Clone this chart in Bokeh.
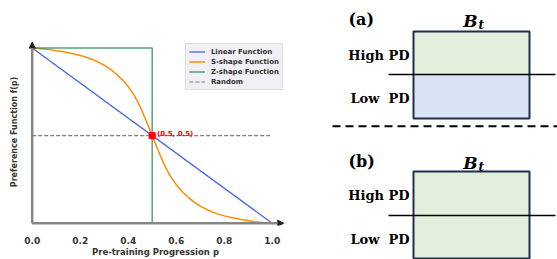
from bokeh.plotting import figure
from bokeh.models import Range1d, Arrow, NormalHead, Label, FixedTicker, PrintfTickFormatter
from bokeh.layouts import row
from bokeh.embed import file_html
from bokeh.resources import INLINE

# ---------------- data ----------------
progress = [0.000, 0.025, 0.050, 0.075, 0.100, 0.125, 0.150, 0.175, 0.200, 0.225,
            0.250, 0.275, 0.300, 0.325, 0.350, 0.375, 0.400, 0.425, 0.450, 0.475,
            0.500, 0.525, 0.550, 0.575, 0.600, 0.625, 0.650, 0.675, 0.700, 0.725,
            0.750, 0.775, 0.800, 0.825, 0.850, 0.875, 0.900, 0.925, 0.950, 0.975, 1.000]
s_shape = [1.000, 0.998, 0.995, 0.991, 0.985, 0.980, 0.973, 0.966, 0.958, 0.948,
           0.935, 0.920, 0.902, 0.880, 0.852, 0.820, 0.780, 0.730, 0.665, 0.585,
           0.500, 0.415, 0.335, 0.270, 0.220, 0.180, 0.148, 0.120, 0.098, 0.080,
           0.065, 0.052, 0.042, 0.034, 0.027, 0.020, 0.015, 0.009, 0.005, 0.002, 0.000]
linear_p = [0.0, 1.0]
linear_f = [1.0, 0.0]
z_p = [0.0, 0.5, 0.5, 1.0]
z_f = [1.0, 1.0, 0.0, 0.0]
random_p = [0.0, 1.0]
random_f = [0.5, 0.5]
cross_p = [0.5]
cross_f = [0.5]
cross_label = "(0.5, 0.5)"
x_ticks = [0.0, 0.2, 0.4, 0.6, 0.8, 1.0]
series_names = ["Linear Function", "S-shape Function", "Z-shape Function", "Random"]

FONT = "DejaVu Sans"
DARK = "#333333"

# ---------------- left chart ----------------
p = figure(width=300, height=259, output_backend="svg", toolbar_location=None,
           x_range=Range1d(-0.0404, 1.068), y_range=Range1d(-0.013, 1.0545),
           min_border_left=22, min_border_right=12, min_border_top=38, min_border_bottom=31)
p.frame_align = False
p.outline_line_color = None
p.xgrid.visible = False
p.ygrid.visible = False
p.background_fill_color = "white"

xa = p.xaxis[0]
xa.ticker = FixedTicker(ticks=x_ticks)
xa.formatter = PrintfTickFormatter(format="%.1f")
xa.axis_line_color = None
xa.major_tick_line_color = None
xa.minor_tick_line_color = None
xa.major_tick_out = 0
xa.major_tick_in = 0
xa.minor_tick_out = 0
xa.minor_tick_in = 0
xa.major_label_standoff = 11
xa.major_label_text_font = FONT
xa.major_label_text_font_style = "bold"
xa.major_label_text_font_size = "9px"
xa.major_label_text_color = DARK
xa.axis_label = "Pre-training Progression p"
xa.axis_label_standoff = 0
xa.axis_label_text_font = FONT
xa.axis_label_text_font_style = "bold"
xa.axis_label_text_font_size = "8.5px"
xa.axis_label_text_color = DARK

ya = p.yaxis[0]
ya.ticker = FixedTicker(ticks=[])
ya.axis_line_color = None
ya.major_tick_line_color = None
ya.minor_tick_line_color = None
ya.major_tick_out = 0
ya.major_tick_in = 0
ya.minor_tick_out = 0
ya.minor_tick_in = 0
ya.axis_label = "Preference Function f(p)"
ya.axis_label_standoff = 4
ya.axis_label_text_font = FONT
ya.axis_label_text_font_style = "bold"
ya.axis_label_text_font_size = "8px"
ya.axis_label_text_color = DARK

# axis arrows
p.add_layout(Arrow(end=NormalHead(size=6, fill_color="#222222", line_color="#222222"),
                   x_start=0, y_start=0, x_end=1.048, y_end=0,
                   line_color="#858585", line_width=2.5))
p.add_layout(Arrow(end=NormalHead(size=6, fill_color="#222222", line_color="#222222"),
                   x_start=0, y_start=0, x_end=0, y_end=1.034,
                   line_color="#858585", line_width=2.5))

p.line(linear_p, linear_f, color="#4169e1", line_width=1.3, legend_label=series_names[0])
p.line(progress, s_shape, color="#ff8c00", line_width=1.5, legend_label=series_names[1])
p.line(z_p, z_f, color="#2e8b57", line_width=1.5, line_alpha=0.8, legend_label=series_names[2])
p.line(random_p, random_f, color="#808080", line_width=1.2, line_dash="4 2", legend_label=series_names[3])
p.scatter(cross_p, cross_f, size=6, marker="square", color="red")
p.add_layout(Label(x=cross_p[0] + 0.02, y=cross_f[0] + 0.012, text=cross_label,
                   text_color="red", text_font=FONT, text_font_style="bold",
                   text_font_size="7px", text_baseline="middle"))

lg = p.legend[0]
lg.location = "top_right"
lg.margin = 5
lg.padding = 3
lg.spacing = 1
lg.glyph_width = 16
lg.glyph_height = 9
lg.label_height = 9
lg.label_standoff = 6
lg.label_text_font = FONT
lg.label_text_font_style = "bold"
lg.label_text_font_size = "7px"
lg.label_text_color = DARK
lg.background_fill_color = "#efeff4"
lg.background_fill_alpha = 1.0
lg.border_line_color = "#cccccc"
lg.border_line_width = 1

# ---------------- right diagram ----------------
q = figure(width=257, height=259, output_backend="svg", toolbar_location=None,
           x_range=Range1d(300, 557), y_range=Range1d(259, 0),
           min_border=0, min_border_left=0, min_border_right=0,
           min_border_top=0, min_border_bottom=0)
q.frame_align = False
q.axis.visible = False
q.xgrid.visible = False
q.ygrid.visible = False
q.outline_line_color = None

panel_tags = ["(a)", "(b)"]
panel_top = [31, 171]
panel_bottom = [118, 258]
panel_split = [74, 215]
tag_y = [19, 161]
upper_fill = ["#e2efda", "#e2efda"]
lower_fill = ["#dae3f3", "#e2efda"]
box_left, box_right = 413, 529
SERIF = "DejaVu Serif"
NAVY = "#1f2f4f"

for i in range(2):
    t, b, s = panel_top[i], panel_bottom[i], panel_split[i]
    q.quad(left=[box_left], right=[box_right], top=[t], bottom=[s],
           fill_color=upper_fill[i], line_color=None)
    q.quad(left=[box_left], right=[box_right], top=[s], bottom=[b],
           fill_color=lower_fill[i], line_color=None)
    q.quad(left=[box_left], right=[box_right], top=[t], bottom=[b],
           fill_color=None, line_color=NAVY, line_width=2)
    q.line([388, 555], [s, s], color="black", line_width=1.6)
    q.add_layout(Label(x=348, y=tag_y[i], text=panel_tags[i], text_font=SERIF,
                       text_font_style="bold", text_font_size="16px",
                       text_baseline="middle", text_color="black"))
    q.add_layout(Label(x=477, y=tag_y[i] + 1, text="B", text_font=SERIF,
                       text_font_style="bold italic", text_font_size="17px",
                       text_baseline="middle", text_align="right", text_color="black"))
    q.add_layout(Label(x=478, y=tag_y[i] + 5, text="t", text_font=SERIF,
                       text_font_style="bold italic", text_font_size="12px",
                       text_baseline="middle", text_align="left", text_color="black"))
    q.add_layout(Label(x=409, y=(t + s) / 2 + 2, text="High PD", text_font=SERIF,
                       text_font_style="bold", text_font_size="13px",
                       text_baseline="middle", text_align="right", text_color="black"))
    q.add_layout(Label(x=409, y=(s + b) / 2 + 2, text="Low\u00a0 PD", text_font=SERIF,
                       text_font_style="bold", text_font_size="13px",
                       text_baseline="middle", text_align="right", text_color="black"))

q.line([332, 557], [125.7, 125.7], color="black", line_width=2, line_dash="8 5")

layout = row(p, q)
open("out.html", "w").write(file_html(layout, INLINE))
